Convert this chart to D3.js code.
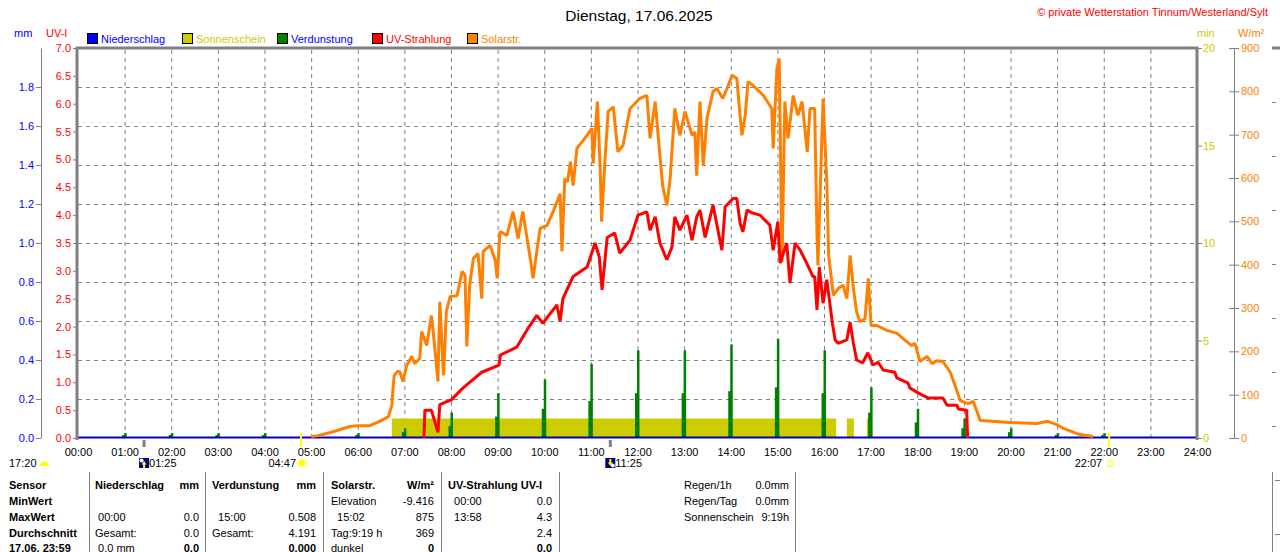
<!DOCTYPE html>
<html lang="de">
<head>
<meta charset="UTF-8">
<title>Dienstag, 17.06.2025</title>
<script src="https://d3js.org/d3.v7.min.js"></script>
<style>
  body { margin: 0; background: #fff; }
  svg text { font-family: "Liberation Sans", Arial, sans-serif; font-size: 11px; white-space: pre; }
</style>
</head>
<body>
<script>
// ---- data (hours as decimal) ----
var hourTicks = d3.range(0, 25);
var uvTicks = d3.range(0, 7.01, 0.5);
var mmTicks = d3.range(0, 1.81, 0.2);
var sunTicks = [0, 5, 10, 15, 20];
var solarTicks = d3.range(0, 901, 100);

var solarHours = [5.00, 5.15, 5.47, 5.83, 6.00, 6.26, 6.47, 6.66, 6.73, 6.78, 6.85, 6.90, 6.97, 7.05, 7.16, 7.22, 7.33, 7.37, 7.48, 7.58,
  7.62, 7.72, 7.76, 7.84, 7.90, 7.98, 8.13, 8.24, 8.30, 8.34, 8.40, 8.48, 8.58, 8.66, 8.69, 8.84, 8.95, 8.99, 9.05, 9.20,
  9.33, 9.44, 9.54, 9.70, 9.76, 9.91, 10.06, 10.19, 10.34, 10.38, 10.44, 10.50, 10.56, 10.62, 10.70, 10.87, 11.02, 11.05, 11.14, 11.20,
  11.23, 11.30, 11.37, 11.48, 11.58, 11.69, 11.84, 12.05, 12.20, 12.27, 12.38, 12.48, 12.54, 12.63, 12.70, 12.80, 12.91, 13.02, 13.17, 13.23,
  13.27, 13.34, 13.41, 13.49, 13.62, 13.70, 13.83, 13.92, 14.03, 14.13, 14.20, 14.24, 14.31, 14.37, 14.48, 14.70, 14.88, 14.91, 14.99, 15.04,
  15.08, 15.10, 15.16, 15.23, 15.34, 15.44, 15.53, 15.64, 15.70, 15.80, 15.85, 15.87, 15.98, 16.06, 16.10, 16.20, 16.31, 16.41, 16.49, 16.56,
  16.63, 16.70, 16.77, 16.88, 16.95, 17.01, 17.14, 17.35, 17.57, 17.74, 17.88, 17.95, 18.06, 18.21, 18.32, 18.42, 18.55, 18.70, 18.81, 18.92,
  19.09, 19.20, 19.28, 19.35, 19.62, 20.05, 20.57, 20.80, 20.98, 21.15, 21.47, 21.77];
var solarValues = [0, 2, 11, 23, 25, 25, 35, 46, 72, 141, 150, 150, 127, 164, 185, 168, 180, 242, 210, 279,
  240, 127, 311, 141, 288, 323, 325, 381, 372, 208, 349, 411, 422, 318, 427, 441, 406, 365, 473, 464,
  519, 457, 519, 411, 365, 480, 487, 519, 560, 427, 595, 588, 634, 579, 665, 688, 711, 630, 773, 618,
  496, 634, 750, 761, 657, 672, 757, 780, 787, 688, 773, 648, 579, 533, 595, 757, 695, 750, 695, 703,
  602, 773, 625, 734, 796, 803, 780, 803, 834, 826, 741, 695, 741, 819, 810, 787, 757, 665, 849, 872,
  549, 403, 773, 688, 787, 741, 773, 657, 757, 757, 464, 395, 780, 588, 418, 326, 342, 349, 318, 418,
  342, 288, 265, 272, 365, 256, 256, 245, 238, 222, 210, 215, 173, 185, 168, 175, 173, 150, 118, 83,
  76, 81, 58, 37, 35, 32, 30, 35, 28, 18, 5, 0];

var uvHours = [7.42, 7.44, 7.58, 7.72, 7.76, 7.90, 8.00, 8.26, 8.40, 8.66, 9.03, 9.06, 9.41, 9.63, 9.84, 9.97, 10.27, 10.34, 10.40,
  10.62, 10.92, 11.09, 11.18, 11.24, 11.35, 11.51, 11.62, 11.84, 12.01, 12.20, 12.27, 12.38, 12.48, 12.63, 12.74, 12.80, 12.91, 13.06, 13.17,
  13.27, 13.34, 13.45, 13.62, 13.81, 13.88, 14.05, 14.13, 14.20, 14.26, 14.35, 14.46, 14.63, 14.84, 14.91, 15.01, 15.06, 15.20, 15.27, 15.38,
  15.49, 15.63, 15.76, 15.80, 15.85, 15.90, 15.98, 16.06, 16.18, 16.24, 16.30, 16.49, 16.56, 16.63, 16.70, 16.83, 16.94, 17.05, 17.16, 17.27,
  17.52, 17.56, 17.80, 17.84, 18.02, 18.23, 18.55, 18.64, 18.85, 18.88, 19.06, 19.08];
var uvValues = [0, 0.5, 0.5, 0.1, 0.6, 0.65, 0.68, 0.9, 1.0, 1.18, 1.31, 1.49, 1.63, 1.94, 2.2, 2.06, 2.39, 2.1, 2.5,
  2.9, 3.07, 3.5, 3.25, 2.66, 3.6, 3.68, 3.32, 3.55, 4.0, 4.06, 3.73, 3.97, 3.5, 3.2, 3.43, 3.97, 3.73, 4.0, 3.55,
  3.97, 4.09, 3.6, 4.18, 3.37, 4.15, 4.3, 4.3, 3.86, 3.7, 4.09, 4.04, 4.0, 3.82, 3.37, 3.88, 3.14, 3.5, 2.78, 3.5,
  3.37, 3.14, 2.9, 2.9, 2.3, 3.07, 2.42, 2.84, 2.06, 1.76, 1.7, 1.76, 2.08, 1.7, 1.4, 1.35, 1.53, 1.31, 1.36, 1.22,
  1.18, 1.08, 0.99, 0.9, 0.81, 0.72, 0.72, 0.59, 0.59, 0.52, 0.5, 0];

var evapHours = [1, 2, 3, 4, 6, 7, 8, 9, 10, 11, 12, 13, 14, 15, 16, 17, 18, 19, 20, 21, 22];
var evapPeak = [0.025, 0.025, 0.025, 0.025, 0.025, 0.05, 0.13, 0.23, 0.30, 0.38, 0.45, 0.45, 0.48, 0.508, 0.45, 0.26, 0.15, 0.10, 0.05, 0.025, 0.025];
var evapShoulder = [0.015, 0.015, 0.015, 0.015, 0.015, 0.03, 0.06, 0.11, 0.15, 0.19, 0.23, 0.23, 0.24, 0.26, 0.23, 0.13, 0.08, 0.05, 0.03, 0.015, 0.015];

var sunStart = [6.73, 16.49, 16.92];
var sunEnd = [16.26, 16.64, 17.0];
var sunMinutes = [1, 1, 1];

var sunrise = 4.783, sunset = 22.117, moonrise = 1.417, moonset = 11.417;

var legendNames = ['Niederschlag', 'Sonnenschein', 'Verdunstung', 'UV-Strahlung', 'Solarstr.'];
var legendColors = ['#0000ff', '#cccc00', '#008000', '#ff0000', '#ff8000'];
var legendText = ['#0000ff', '#cccc00', '#0000ff', '#ff0000', '#ff8000'];

var sensorCol = ['Sensor', 'MinWert', 'MaxWert', 'Durchschnitt', '17.06. 23:59'];
var rainLeft = ['Niederschlag', '', ' 00:00', 'Gesamt:', ' 0.0 mm'];
var rainRight = ['mm', '', '0.0', '0.0', '0.0'];
var evapLeft = ['Verdunstung', '', '  15:00', 'Gesamt:', ''];
var evapRight = ['mm', '', '0.508', '4.191', '0.000'];
var solarLeft = ['Solarstr.', 'Elevation', '  15:02', 'Tag:9:19 h', 'dunkel'];
var solarRight = ['W/m²', '-9.416', '875', '369', '0'];
var uvLeft = ['UV-Strahlung UV-I', '  00:00', '  13:58', '', ''];
var uvRight = ['', '0.0', '4.3', '2.4', '0.0'];
var summaryLabels = ['Regen/1h', 'Regen/Tag', 'Sonnenschein'];
var summaryValues = ['0.0mm', '0.0mm', '9:19h'];

// ---- layout ----
var W = 1280, H = 552;
var pL = 78, pR = 1197, pT = 48, pB = 438;
var grey = '#808080';

var svg = d3.select('body').append('svg').attr('width', W).attr('height', H);

var x = d3.scaleLinear().domain([0, 24]).range([pL, pR]);
var yUV = d3.scaleLinear().domain([0, 7]).range([pB, pT]);
var yMM = d3.scaleLinear().domain([0, 2]).range([pB, pT]);
var ySun = d3.scaleLinear().domain([0, 20]).range([pB, pT]);
var ySolar = d3.scaleLinear().domain([0, 900]).range([pB, pT]);

// grid
svg.append('g').attr('transform', 'translate(0,' + pB + ')')
  .call(d3.axisBottom(x).tickValues(d3.range(1, 24)).tickSize(-(pB - pT)).tickFormat(''))
  .call(g => g.select('.domain').remove())
  .selectAll('line').attr('stroke', grey).attr('stroke-dasharray', '4,4');
svg.append('g').attr('transform', 'translate(' + pL + ',0)')
  .call(d3.axisLeft(yMM).tickValues(d3.range(0.2, 1.81, 0.2)).tickSize(-(pR - pL)).tickFormat(''))
  .call(g => g.select('.domain').remove())
  .selectAll('line').attr('stroke', grey).attr('stroke-dasharray', '4,4');

// sunshine
svg.append('g').selectAll('rect').data(sunStart).join('rect')
  .attr('x', d => x(d))
  .attr('width', (d, i) => x(sunEnd[i]) - x(d))
  .attr('y', (d, i) => ySun(sunMinutes[i]))
  .attr('height', (d, i) => pB - ySun(sunMinutes[i]))
  .attr('fill', '#cccc00');

// evaporation
var ev = svg.append('g').attr('fill', '#008000');
ev.selectAll('.sh').data(evapHours).join('rect').attr('class', 'sh')
  .attr('x', d => x(d) - 2.5).attr('width', 3.5)
  .attr('y', (d, i) => yMM(evapShoulder[i])).attr('height', (d, i) => pB - yMM(evapShoulder[i]));
ev.selectAll('.pk').data(evapHours).join('rect').attr('class', 'pk')
  .attr('x', d => x(d) - 0.5).attr('width', 2.5)
  .attr('y', (d, i) => yMM(evapPeak[i])).attr('height', (d, i) => pB - yMM(evapPeak[i]));

// precipitation zero line
svg.append('line').attr('x1', pL).attr('x2', pR).attr('y1', yMM(0) - 0.5).attr('y2', yMM(0) - 0.5)
  .attr('stroke', '#0000c0').attr('stroke-width', 2);

// solar
svg.append('path').datum(solarHours)
  .attr('fill', 'none').attr('stroke', '#ff8000').attr('stroke-width', 3).attr('stroke-linejoin', 'bevel')
  .attr('d', d3.line().x(d => x(d)).y((d, i) => ySolar(solarValues[i]) - 1.5));

// uv
svg.append('path').datum(uvHours)
  .attr('fill', 'none').attr('stroke', '#ff0000').attr('stroke-width', 3).attr('stroke-linejoin', 'bevel')
  .attr('d', d3.line().x(d => x(d)).y((d, i) => yUV(uvValues[i])));

// plot frame
svg.append('path').attr('d', 'M' + (pL - 1) + ',' + (pB + 2) + 'V' + pT + 'H' + pR + 'V' + (pB + 2))
  .attr('fill', 'none').attr('stroke', grey).attr('stroke-width', 3);

// axes
function styleAxis(g, color) {
  g.selectAll('text').attr('fill', color).style('font-size', '11px').style('font-family', '"Liberation Sans", Arial, sans-serif');
  g.selectAll('line').attr('stroke', grey);
  g.select('.domain').attr('stroke', grey);
}
svg.append('g').attr('transform', 'translate(' + (pL - 1) + ',0)')
  .call(d3.axisLeft(yUV).tickValues(uvTicks).tickFormat(d3.format('.1f')).tickSize(4).tickPadding(2))
  .call(g => g.select('.domain').remove())
  .call(g => styleAxis(g, '#ff0000'));
svg.append('g').attr('transform', 'translate(41,0)')
  .call(d3.axisLeft(yMM).tickValues(mmTicks).tickFormat(d3.format('.1f')).tickSize(5).tickPadding(2).tickSizeOuter(0))
  .call(g => styleAxis(g, '#0000ff'));

svg.append('g').attr('transform', 'translate(' + pR + ',0)')
  .call(d3.axisRight(ySun).tickValues(sunTicks).tickSize(5).tickPadding(1))
  .call(g => g.select('.domain').remove())
  .call(g => styleAxis(g, '#cccc00'));
svg.append('g').attr('transform', 'translate(1234,0)')
  .call(d3.axisLeft(ySolar).tickValues(solarTicks).tickSize(5).tickFormat('').tickSizeOuter(0))
  .call(g => styleAxis(g, '#ff8000'));
svg.append('g').attr('transform', 'translate(1234,0)')
  .call(d3.axisRight(ySolar).tickValues(solarTicks).tickSize(5).tickPadding(2).tickSizeOuter(0))
  .call(g => styleAxis(g, '#ff8000'));

svg.append('g').attr('transform', 'translate(0,' + pB + ')')
  .call(d3.axisBottom(x).tickValues(hourTicks).tickSize(0).tickPadding(10)
    .tickFormat(d => String(d).padStart(2, '0') + ':00'))
  .call(g => g.select('.domain').remove())
  .call(g => styleAxis(g, '#000'));

// sunrise / sunset / moon markers
svg.append('g').selectAll('line').data([sunrise, sunset]).join('line')
  .attr('x1', d => x(d)).attr('x2', d => x(d)).attr('y1', 433).attr('y2', 447)
  .attr('stroke', '#ffff00').attr('stroke-width', 2);
svg.append('g').selectAll('line').data([moonrise, moonset]).join('line')
  .attr('x1', d => x(d)).attr('x2', d => x(d)).attr('y1', 440).attr('y2', 447)
  .attr('stroke', grey).attr('stroke-width', 3);

function moonIcon(cx, up) {
  var g = svg.append('g').attr('transform', 'translate(' + (cx - 5) + ',458)');
  g.append('rect').attr('width', 10).attr('height', 10).attr('fill', '#000080');
  g.append('circle').attr('cx', up ? 2.5 : 7.5).attr('cy', up ? 2.5 : 7.5).attr('r', 2).attr('fill', '#fff');
  g.append('path').attr('d', up ? 'M5,3L2.5,6.5H4V10H6V6.5H7.5Z' : 'M5,8L2.5,4.5H4V1H6V4.5H7.5Z').attr('fill', '#ffff00');
}
moonIcon(x(moonrise), true);
moonIcon(x(moonset), false);
svg.append('text').attr('x', x(moonrise) + 5).attr('y', 467).text('01:25');
svg.append('text').attr('x', x(moonset) + 5).attr('y', 467).text('11:25');
svg.append('text').attr('x', x(sunrise) - 5).attr('y', 467).attr('text-anchor', 'end').text('04:47');
svg.append('text').attr('x', x(sunset) - 7).attr('y', 467).attr('text-anchor', 'end').text('22:07');
svg.append('text').attr('x', 9).attr('y', 467).text('17:20');
svg.append('path').attr('d', 'M40,466A4.5,4.5 0 0 1 49,466Z').attr('fill', '#ffff00');
var sunG = svg.append('g').attr('transform', 'translate(' + (x(sunrise) + 1) + ',463)');
sunG.append('circle').attr('r', 3.5).attr('fill', '#ffff00');
sunG.selectAll('line').data(d3.range(8)).join('line')
  .attr('x1', d => 4.5 * Math.cos(d * Math.PI / 4)).attr('y1', d => 4.5 * Math.sin(d * Math.PI / 4))
  .attr('x2', d => 6 * Math.cos(d * Math.PI / 4)).attr('y2', d => 6 * Math.sin(d * Math.PI / 4))
  .attr('stroke', '#ffff00').attr('stroke-width', 1);
svg.append('rect').attr('x', x(sunset) - 1).attr('y', 461).attr('width', 5).attr('height', 5)
  .attr('fill', 'none').attr('stroke', '#ffff00').attr('stroke-width', 1);

// titles
svg.append('text').attr('x', 639).attr('y', 21).attr('text-anchor', 'middle').style('font-size', '15.5px').text('Dienstag, 17.06.2025');
svg.append('text').attr('x', 1268).attr('y', 16).attr('text-anchor', 'end').attr('fill', '#ff0000').text('© private Wetterstation Tinnum/Westerland/Sylt');
svg.append('text').attr('x', 14).attr('y', 37).attr('fill', '#0000ff').text('mm');
svg.append('text').attr('x', 46).attr('y', 37).attr('fill', '#ff0000').text('UV-I');
svg.append('text').attr('x', 1197).attr('y', 37).attr('fill', '#cccc00').text('min');
svg.append('text').attr('x', 1238).attr('y', 37).attr('fill', '#ff8000').text('W/m²');

// legend
var legX = [87, 182, 277, 372, 467];
var leg = svg.append('g').selectAll('g').data(legendNames).join('g')
  .attr('transform', (d, i) => 'translate(' + legX[i] + ',33)');
leg.append('rect').attr('x', 0.5).attr('y', 0.5).attr('width', 10).attr('height', 10)
  .attr('fill', (d, i) => legendColors[i]).attr('stroke', '#000');
leg.append('text').attr('x', 14).attr('y', 9.5).attr('fill', (d, i) => legendText[i]).text(d => d);

// table
var rowY = [489, 505, 521, 537, 552];
var tbl = svg.append('g');
function column(texts, xPos, anchor, boldFn) {
  tbl.append('g').selectAll('text').data(texts).join('text')
    .attr('x', xPos).attr('y', (d, i) => rowY[i]).attr('text-anchor', anchor)
    .attr('xml:space', 'preserve')
    .style('font-weight', (d, i) => boldFn(i) ? 'bold' : 'normal')
    .text(d => d);
}
column(sensorCol, 9, 'start', () => true);
column(rainLeft, 95, 'start', i => i === 0);
column(rainRight, 199, 'end', i => i === 0 || i === 4);
column(evapLeft, 212, 'start', i => i === 0);
column(evapRight, 316, 'end', i => i === 0 || i === 4);
column(solarLeft, 331, 'start', i => i === 0);
column(solarRight, 434, 'end', i => i === 0 || i === 4);
column(uvLeft, 448, 'start', i => i === 0);
column(uvRight, 552, 'end', i => i === 0 || i === 4);
svg.append('g').selectAll('line').data([89, 205, 323, 441, 559, 795, 1272]).join('line')
  .attr('x1', d => d + 0.5).attr('x2', d => d + 0.5).attr('y1', 472).attr('y2', 552)
  .attr('stroke', grey);
svg.append('g').selectAll('text').data(summaryLabels).join('text')
  .attr('x', 684).attr('y', (d, i) => rowY[i]).text(d => d);
svg.append('g').selectAll('text').data(summaryValues).join('text')
  .attr('x', 789).attr('y', (d, i) => rowY[i]).attr('text-anchor', 'end').text(d => d);

// edge of the neighbouring chart
svg.append('line').attr('x1', 1272).attr('x2', 1280).attr('y1', 48).attr('y2', 48).attr('stroke', grey).attr('stroke-width', 3);
svg.append('g').selectAll('line').data(d3.range(102, 430, 54)).join('line')
  .attr('x1', 1272).attr('x2', 1280).attr('y1', d => d + 0.5).attr('y2', d => d + 0.5)
  .attr('stroke', grey).attr('stroke-dasharray', '4,4');
svg.append('g').selectAll('line').data([480, 534]).join('line')
  .attr('x1', 1275).attr('x2', 1280).attr('y1', d => d + 0.5).attr('y2', d => d + 0.5).attr('stroke', grey);
</script>
</body>
</html>
